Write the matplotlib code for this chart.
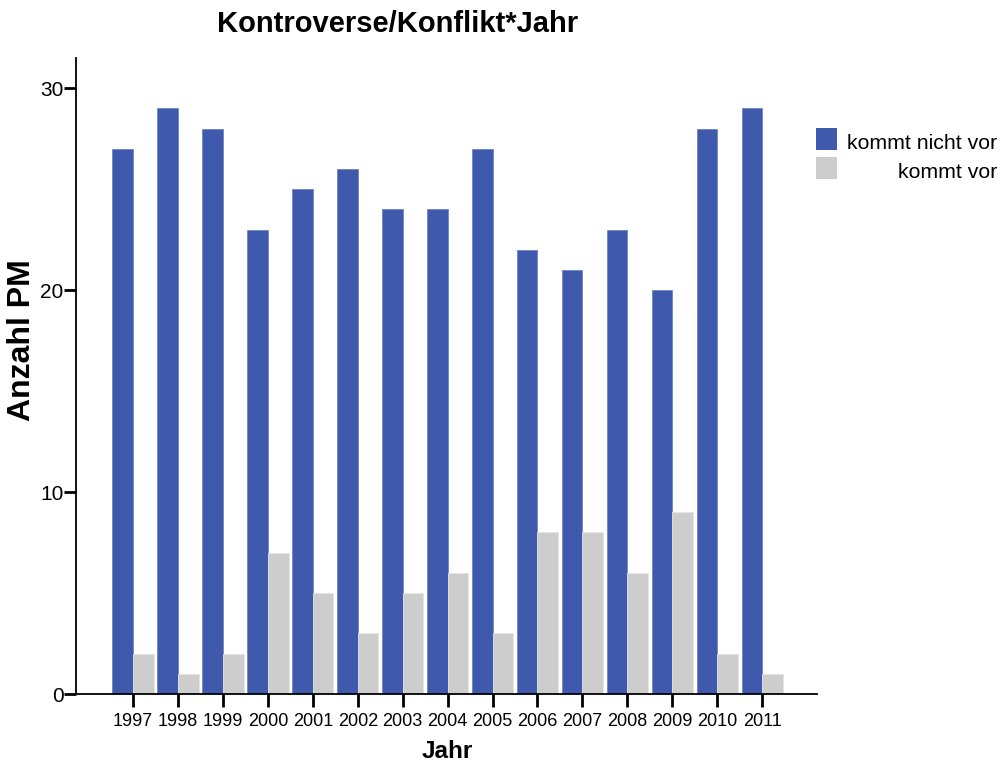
import numpy as np
import matplotlib
matplotlib.use("Agg")
import matplotlib.pyplot as plt
from matplotlib.patches import Rectangle

plt.rcParams['font.family'] = ['Liberation Sans', 'DejaVu Sans']

# ----- data -----
years = ['1997', '1998', '1999', '2000', '2001', '2002', '2003', '2004',
         '2005', '2006', '2007', '2008', '2009', '2010', '2011']
kommt_nicht_vor = [27, 29, 28, 23, 25, 26, 24, 24, 27, 22, 21, 23, 20, 28, 29]
kommt_vor = [2, 1, 2, 7, 5, 3, 5, 6, 3, 8, 8, 6, 9, 2, 1]
series_labels = ['kommt nicht vor', 'kommt vor']

blue = '#3F59AD'
grey = '#CDCDCD'

fig = plt.figure(figsize=(10, 7.62), dpi=100)
ax = fig.add_axes([0.076, 0.0892, 0.741, 0.8347])

x = np.arange(len(years))
w = 0.46
ax.bar(x - w/2, kommt_nicht_vor, width=w, color=blue, edgecolor='#6F84C6', linewidth=0.6)
ax.bar(x + w/2, kommt_vor, width=w, color=grey, edgecolor='#E4E4E4', linewidth=0.6)

ax.set_xlim(-1.27, 15.22)
ax.set_ylim(0, 31.5)
ax.set_xticks(x)
ax.set_xticklabels(years, fontsize=13)
ax.set_yticks([0, 10, 20, 30])
ax.tick_params(axis='y', labelsize=15, length=9, width=2, pad=0, direction='out')
ax.tick_params(axis='x', length=9, width=2, pad=5, direction='out')

for s in ['top', 'right']:
    ax.spines[s].set_visible(False)
ax.spines['left'].set_linewidth(1.3)
ax.spines['bottom'].set_linewidth(1.3)

# titles
fig.text(0.398, 1 - 32 / 762, 'Kontroverse/Konflikt*Jahr', fontsize=21, fontweight='bold',
         ha='center', va='baseline')
fig.text(0.447, 1 - 758 / 762, 'Jahr', fontsize=17.5, fontweight='bold', ha='center',
         va='baseline')
fig.text(0.022, 1 - 340 / 762, 'Anzahl PM', fontsize=23, fontweight='bold', rotation=90,
         ha='center', va='center')

# legend, labels right aligned
for i, (lab, col) in enumerate(zip(series_labels, [blue, grey])):
    y0 = 1 - (150 + i * 29) / 762
    fig.patches.append(Rectangle((0.816, y0), 0.021, 22 / 762, transform=fig.transFigure,
                                 facecolor=col, edgecolor='none'))
    fig.text(0.997, y0 + 1 / 762, lab, fontsize=15.3, ha='right', va='baseline')

fig.savefig('out.png', dpi=100)
